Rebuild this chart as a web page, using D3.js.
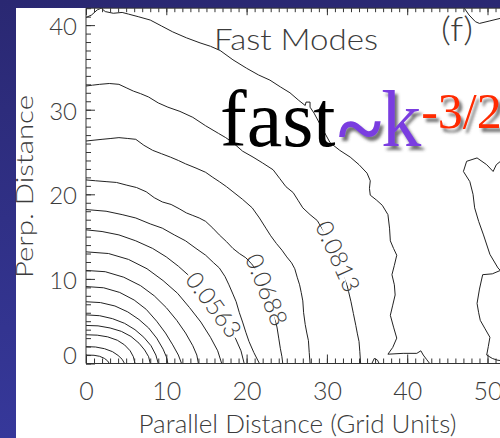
<!DOCTYPE html>
<html>
<head>
<meta charset="utf-8">
<script src="https://cdn.jsdelivr.net/npm/d3@7"></script>
<style>
  html, body { margin: 0; padding: 0; background: #fff; }
  svg { display: block; }
  .thin { font-family: Lato, "DejaVu Sans", sans-serif; font-weight: 300; fill: #3c3c3c; }
</style>
</head>
<body>
<svg id="chart" width="500" height="438"></svg>
<script>
// ---- axis ticks ----
const xTicks = [0, 10, 20, 30, 40, 50];
const yTicks = [0, 10, 20, 30, 40];

// ---- contour lines, [parallel, perp] in grid units ----
const arc15 = [[0,1.0],[1.0,0.97],[1.7,0.85],[2.3,0.6],[2.7,0.3],[2.9,0]];
const arc14 = [[0,2.0],[1.2,1.95],[2.3,1.75],[3.3,1.4],[4.0,0.95],[4.5,0.5],[4.8,0]];
const arc13 = [[0,3.4],[1.4,3.35],[2.7,3.15],[3.9,2.75],[4.8,2.2],[5.5,1.5],[5.9,0.8],[6.1,0]];
const arc12 = [[0,4.5],[1.5,4.45],[3.0,4.2],[4.4,3.8],[5.6,3.2],[6.6,2.4],[7.3,1.6],[7.8,0.8],[8.0,0]];
const arc11 = [[0,5.75],[1.7,5.65],[3.3,5.3],[4.8,4.75],[6.1,4.0],[7.2,3.1],[8.1,2.1],[8.7,1.0],[9.0,0]];
const arc10 = [[0,7.3],[1.8,7.2],[3.6,6.8],[5.2,6.1],[6.6,5.2],[7.8,4.2],[8.8,3.0],[9.6,1.7],[10.0,0.8],[10.2,0]];
const arc09 = [[0,9.1],[2.2,8.95],[4.2,8.4],[6.0,7.5],[7.5,6.4],[8.8,5.0],[9.9,3.6],[10.8,2.2],[11.5,1.0],[11.9,0]];
const arc08 = [[0,11.0],[2.4,10.85],[4.7,10.2],[6.8,9.2],[8.5,8.0],[10.0,6.6],[11.3,5.1],[12.4,3.6],[13.3,2.1],[13.8,1.0],[14.0,0]];
const arc07 = [[0,13.2],[2.8,13.0],[5.3,12.3],[7.6,11.2],[9.6,9.8],[11.4,8.3],[12.9,6.6],[14.3,4.9],[15.5,3.1],[16.4,1.5],[16.9,0]];
const arc06 = [[0,15.8],[2.0,15.6],[4.1,15.2],[6.2,14.5],[8.3,13.6],[10.0,12.6],[11.5,11.5],[12.8,10.4],[14.1,9.1],[15.3,7.7],[16.5,6.2],[17.6,4.6],[18.6,3.0],[19.3,1.5],[19.7,0]];
const arc05 = [[0,18.2],[2.5,18.0],[4.5,17.6],[6.2,17.2],[8.0,16.5],[9.5,16.0],[11.0,15.2],[12.4,14.5],[13.7,13.6],[14.9,12.8],[15.9,11.9],[16.6,11.3],[17.3,10.3],[17.8,9.3],[18.3,8.2],[18.7,7.3],[19.1,6.0],[19.5,4.9],[19.9,3.7],[20.3,2.6],[20.9,1.3],[21.6,0]];
const arc04 = [[0,21.7],[1.2,21.6],[2.5,21.5],[3.8,21.4],[5,21.1],[6.3,20.8],[7.5,20.3],[8.5,19.6],[9.5,19.1],[10.6,18.8],[11.6,18.3],[12.5,17.8],[13.3,17.5],[14.1,17.2],[14.9,16.8],[15.8,16.0],[16.6,15.2],[17.5,14.4],[18.3,13.6],[19.1,13.0],[19.9,12.5],[20.6,11.8],[21.2,11.1],[21.8,10.2],[22.3,9.2],[22.8,8.0],[23.2,6.8],[23.5,5.6],[23.8,4.2],[24.0,3.0],[24.2,1.8],[24.4,0.8],[24.5,0]];
const arc03 = [[0,26.3],[1.0,26.4],[2.0,26.5],[3.1,26.6],[4.1,26.7],[5.2,26.6],[6.2,26.5],[7.2,25.8],[8.3,25.2],[9.4,24.8],[10.5,24.4],[11.5,24.0],[12.4,23.6],[13.7,23.1],[14.9,22.6],[15.8,22.0],[16.6,21.5],[17.5,20.9],[18.3,20.3],[19.5,19.4],[20.7,18.4],[21.6,17.2],[22.4,16.0],[23.0,15.1],[23.7,14.2],[24.4,13.4],[25.0,12.6],[25.6,11.9],[26.0,11.2],[26.3,10.2],[26.6,9.3],[26.8,8.4],[27.0,7.4],[27.1,6.0],[27.3,4.6],[27.5,3.6],[27.7,2.7],[27.8,1.3],[27.9,0]];
const arc02 = [[0,32.8],[0.8,32.9],[1.7,33.0],[2.9,33.1],[4.1,33.0],[5.0,32.6],[5.9,32.2],[6.8,31.9],[7.8,31.5],[9.0,30.8],[10.2,30.3],[11.7,29.8],[13.3,29.1],[14.9,28.1],[16.5,27.2],[17.4,26.7],[18.3,26.1],[19.5,25.1],[20.8,24.4],[22.0,23.7],[23.3,22.9],[24.1,21.9],[24.9,20.9],[25.8,20.2],[26.4,19.3],[27.0,18.4],[27.9,17.6],[28.8,16.9],[29.5,15.8],[30.2,14.9],[30.9,13.7],[31.5,12.4],[32.0,11.0],[32.4,9.7],[32.7,8.5],[33.0,7.3],[33.3,5.9],[33.6,4.5],[33.8,3.5],[34.0,2.6],[34.1,1.4],[34.2,0]];
const arc01 = [[0,40.9],[0.7,41.2],[1.4,41.8],[1.9,42.0],[2.4,41.6],[3.4,41.4],[4.5,41.5],[5.3,41.3],[6.5,41.0],[8.0,40.6],[9.4,39.9],[10.8,39.2],[12.5,38.5],[14.2,37.9],[15.5,37.5],[16.7,37.0],[18.3,35.9],[20.0,34.9],[21.5,34.1],[22.9,33.5],[24.2,32.7],[25.4,32.0],[26.5,31.1],[27.3,30.5],[27.4,30.9],[27.9,30.9],[27.9,30.3],[28.4,29.6],[29.3,28.0],[30.4,26.1],[31.6,25.2],[32.9,24.4],[34.0,23.5],[35.0,22.5],[35.4,21.6],[35.3,20.7],[35.4,19.9],[36.2,19.3],[36.9,18.7],[37.6,17.6],[37.8,16.0],[37.9,14.5],[38.3,13.6],[38.7,12.8],[38.4,11.6],[38.1,10.5],[38.4,9.3],[38.5,8.1],[38.2,6.9],[37.9,5.7],[38.3,4.3],[38.7,3.0],[38.2,1.9],[37.6,1.1],[39.5,1.2],[41.2,1.2],[41.7,1.5],[42.0,1.0],[42.4,0.5],[42.8,0]];
const ridgeRight = [[52,24.2],[51.1,23.5],[50.7,22.7],[49.9,23.5],[48.7,24.3],[47.4,23.9],[47.0,22.7],[47.8,21.5],[48.2,20.0],[48.4,18.4],[48.9,16.8],[49.5,15.2],[50.3,12.9],[51.3,11.3],[51.6,11.0],[50.6,10.6],[49.4,10.5],[49.0,8.8],[48.7,7.1],[48.9,6.0],[49.1,5.1],[49.7,4.1],[50.3,3.1],[50.1,2.0],[49.9,1.0],[50.6,0.6],[51.2,0.4],[52,0.3]];
const cornerTop = [[46.9,42.3],[47.7,41.2],[48.5,40.4],[49.0,40.2],[50.3,40.5],[51.6,40.8],[52.5,41.0]];
const bumpBottom = [[35.6,0],[35.9,0.6],[36.3,0.4],[36.5,0]];

// contour values printed along three of the lines
const contourLabels = ["0.0563", "0.0688", "0.0813"];

const contourLines = [arc15, arc14, arc13, arc12, arc11, arc10, arc09, arc08, arc07,
                      arc06, arc05, arc04, arc03, arc02, arc01, ridgeRight, cornerTop, bumpBottom];

const svg = d3.select("#chart");
const W = 500, H = 438;

const x = d3.scaleLinear().domain([0, 50]).range([86, 487.5]);
const y = d3.scaleLinear().domain([0, 42]).range([363.5, 8.2]);

// ---- slide background ----
const defs = svg.append("defs");
const grad = defs.append("linearGradient").attr("id", "slideBg")
  .attr("x1", 0).attr("y1", 0).attr("x2", 0).attr("y2", 1);
grad.append("stop").attr("offset", "0%").attr("stop-color", "#2a2872");
grad.append("stop").attr("offset", "100%").attr("stop-color", "#36389a");
const shadow = defs.append("filter").attr("id", "dropShadow")
  .attr("x", "-10%").attr("y", "-10%").attr("width", "130%").attr("height", "140%");
shadow.append("feDropShadow").attr("dx", 3).attr("dy", 4).attr("stdDeviation", 1.6)
  .attr("flood-color", "#444").attr("flood-opacity", 0.75);
defs.append("clipPath").attr("id", "plotClip").append("rect")
  .attr("x", x(0)).attr("y", y(42)).attr("width", W - x(0)).attr("height", y(0) - y(42));

svg.append("rect").attr("width", W).attr("height", H).attr("fill", "url(#slideBg)");
svg.append("rect").attr("x", 16).attr("y", 8).attr("width", W - 16).attr("height", H - 8).attr("fill", "#fff");

// ---- contours ----
const line = d3.line().x(d => x(d[0])).y(d => y(d[1]));
const plot = svg.append("g").attr("clip-path", "url(#plotClip)");
plot.selectAll("path.contour").data(contourLines).join("path")
  .attr("class", "contour")
  .attr("d", line)
  .attr("fill", "none")
  .attr("stroke", "#222")
  .attr("stroke-width", 1)
  .attr("stroke-linejoin", "round");

// labels sit on a fractional vertex index of their line, with a gap cut in the line
const labelled = [
  { pts: arc06, text: contourLabels[0], at: 9.5 },
  { pts: arc04, text: contourLabels[1], at: 24.4 },
  { pts: arc02, text: contourLabels[2], at: 30.8 }
];
labelled.forEach(l => {
  const p = l.pts.map(d => [x(d[0]), y(d[1])]);
  const i = Math.floor(l.at), f = l.at - i;
  const cx = p[i][0] + (p[i + 1][0] - p[i][0]) * f;
  const cy = p[i][1] + (p[i + 1][1] - p[i][1]) * f;
  const a = p[Math.max(0, i - 2)], b = p[Math.min(p.length - 1, i + 3)];
  const ang = Math.atan2(b[1] - a[1], b[0] - a[0]) * 180 / Math.PI;
  const g = svg.append("g").attr("transform", `translate(${cx},${cy}) rotate(${ang})`);
  const gap = g.append("rect").attr("fill", "#fff");
  const t = g.append("text").attr("class", "thin")
    .attr("text-anchor", "middle").attr("dy", "0.36em")
    .style("font-size", "24px")
    .text(l.text);
  const bb = t.node().getBBox();
  gap.attr("x", bb.x - 2).attr("y", -3).attr("width", bb.width + 4).attr("height", 6);
});

// ---- axes ----
const axisColor = "#333";
function drawAxis(gen, tx, ty) {
  const g = svg.append("g").attr("transform", `translate(${tx},${ty})`)
    .style("color", axisColor).call(gen);
  g.select(".domain").remove();
  g.attr("font-family", null).attr("font-size", null);
  return g;
}
const xMinor = d3.range(0, 52);
const yMinor = d3.range(0, 43);
drawAxis(d3.axisLeft(y).tickValues(yMinor).tickSize(-5).tickFormat(""), x(0), 0);
const yAx = drawAxis(d3.axisLeft(y).tickValues(yTicks).tickSize(-9).tickPadding(9).tickFormat(d3.format("d")), x(0), 0);
drawAxis(d3.axisBottom(x).tickValues(xMinor).tickSize(-5).tickFormat(""), 0, y(0));
const xAx = drawAxis(d3.axisBottom(x).tickValues(xTicks).tickSize(-9).tickPadding(19).tickFormat(d3.format("d")), 0, y(0));
drawAxis(d3.axisTop(x).tickValues(xMinor).tickSize(-4).tickFormat(""), 0, y(42));
drawAxis(d3.axisTop(x).tickValues(xTicks).tickSize(-7).tickFormat(""), 0, y(42));

yAx.selectAll("text").attr("class", "thin").style("font-size", "24px")
  .attr("transform", d => d === 0 ? "translate(0,-8)" : "translate(0,2)");
xAx.selectAll("text").attr("class", "thin").style("font-size", "25px");

// frame
const frame = svg.append("g").attr("stroke", axisColor).attr("stroke-width", 1).attr("fill", "none");
frame.append("line").attr("x1", x(0)).attr("x2", W).attr("y1", y(0)).attr("y2", y(0));
frame.append("line").attr("x1", x(0)).attr("x2", W).attr("y1", y(42)).attr("y2", y(42));
frame.append("line").attr("x1", x(0)).attr("x2", x(0)).attr("y1", y(42)).attr("y2", y(0));

// ---- titles ----
svg.append("text").attr("class", "thin")
  .attr("x", 297.5).attr("y", 433).attr("text-anchor", "middle")
  .style("font-size", "25px")
  .attr("textLength", 318).attr("lengthAdjust", "spacingAndGlyphs")
  .text("Parallel Distance (Grid Units)");
svg.append("text").attr("class", "thin")
  .attr("transform", "translate(33,186.5) rotate(-90)").attr("text-anchor", "middle")
  .style("font-size", "24px")
  .attr("textLength", 183).attr("lengthAdjust", "spacingAndGlyphs")
  .text("Perp. Distance");
svg.append("text").attr("class", "thin")
  .attr("x", 214).attr("y", 50).style("font-size", "30px")
  .attr("textLength", 164).attr("lengthAdjust", "spacingAndGlyphs")
  .text("Fast Modes");
svg.append("text").attr("class", "thin")
  .attr("x", 441).attr("y", 41).style("font-size", "34px")
  .attr("textLength", 32).attr("lengthAdjust", "spacingAndGlyphs")
  .text("(f)");

// ---- scaling annotation ----
const serif = '"Liberation Serif", "Times New Roman", serif';
const fastText = svg.append("text")
  .attr("x", 220).attr("y", 146)
  .style("font-family", serif).style("font-size", "80px").attr("fill", "#000")
  .text("fast");
const fastEnd = 220 + fastText.node().getComputedTextLength();
const law = svg.append("text")
  .attr("x", fastEnd + 3).attr("y", 146)
  .style("font-family", serif).style("font-size", "80px")
  .attr("filter", "url(#dropShadow)");
law.append("tspan").attr("fill", "#7a3ee0").style("font-size", "82px").style("font-weight", "bold")
  .attr("dy", 10).text("~");
law.append("tspan").attr("fill", "#7a3ee0").attr("dy", -10).text("k");
law.append("tspan").attr("fill", "#ff2a00").style("font-size", "50px").attr("dy", -18).text("-3/2");
</script>
</body>
</html>
